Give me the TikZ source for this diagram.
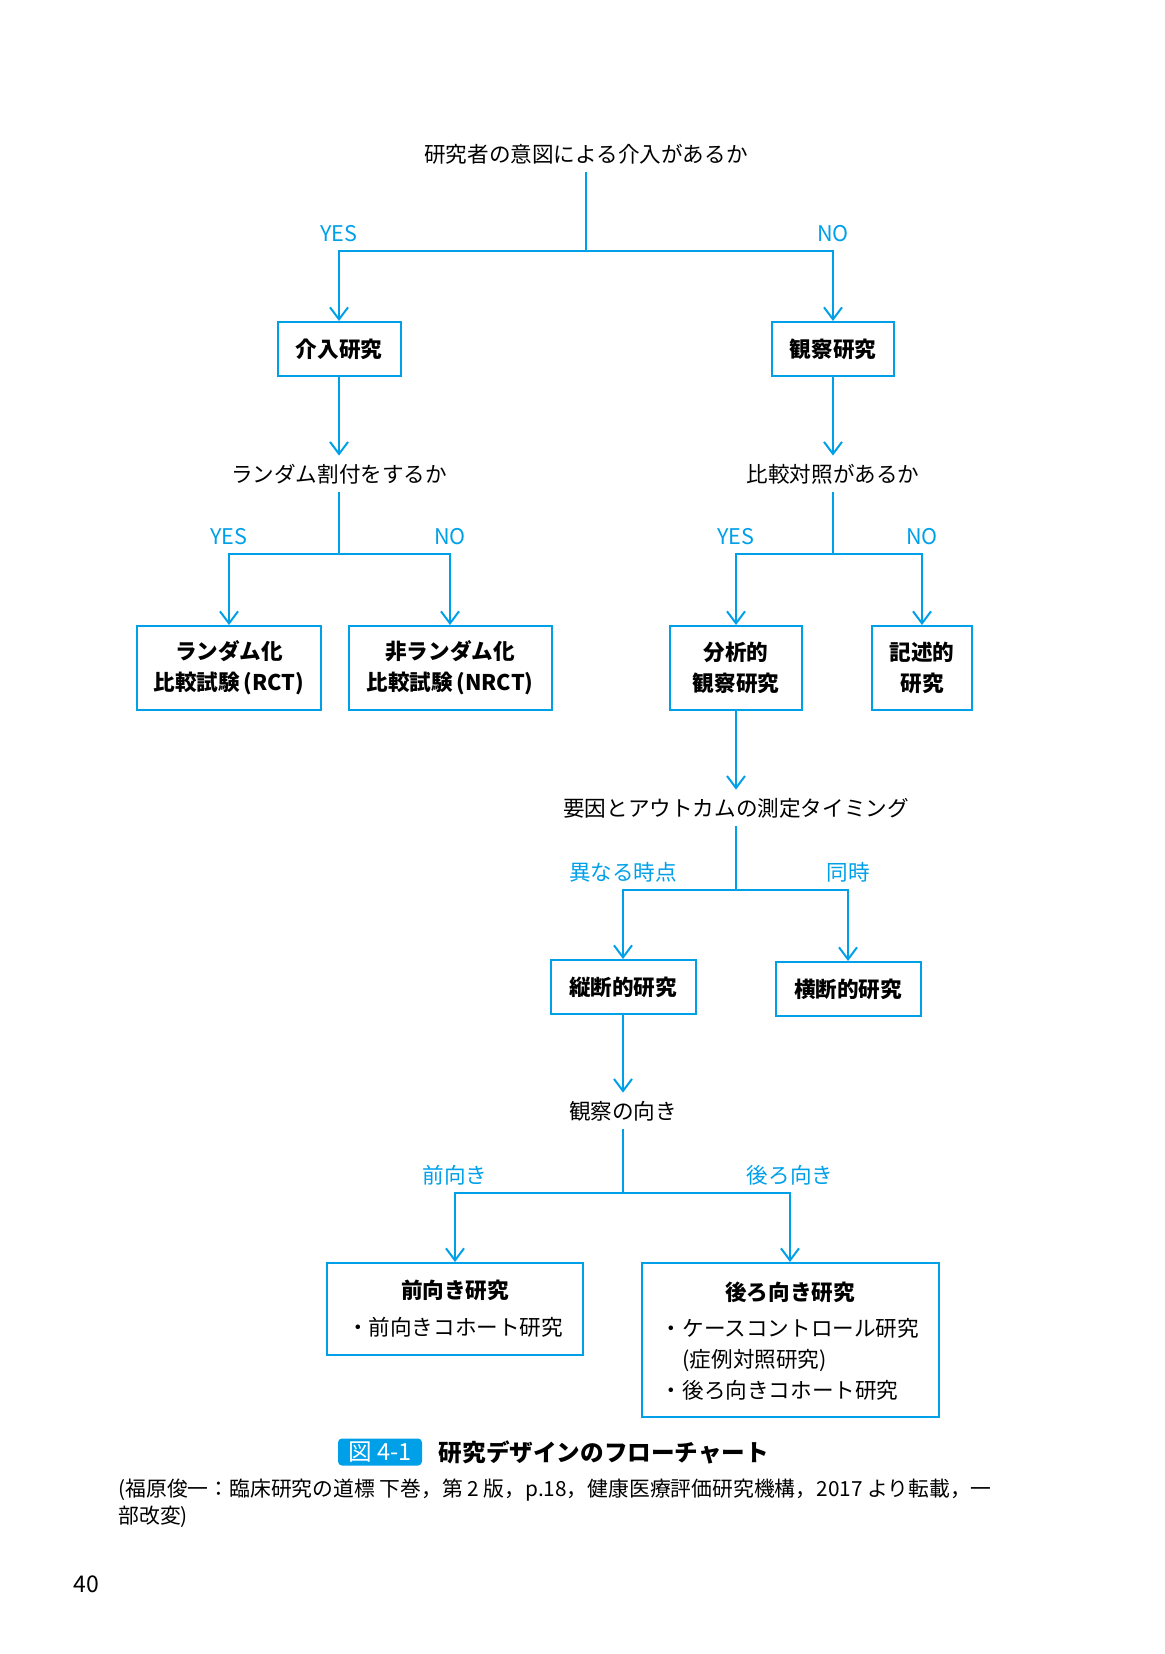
\documentclass[tikz,border=0pt]{standalone}
\usepackage{fontspec}
\newfontfamily\jpfont{Noto Sans CJK JP}
\usepackage{tikz}
\usetikzlibrary{shapes,arrows.meta,positioning}
\definecolor{flowblue}{RGB}{0,160,233}

\begin{document}
\begin{tikzpicture}
		[
		x = 0.5pt, y = -0.5pt,
		every node/.style = {font=\jpfont\fontsize{10.8}{15.3}\selectfont},
		ask/.style = {inner sep=4pt},
		box/.style = {draw=flowblue, line width=1pt, align=center, minimum height=27pt, inner sep=2pt, font=\jpfont\bfseries\fontsize{10.8}{15.3}\selectfont},
		lbl/.style = {anchor=base, yshift=5pt, text=flowblue},
		wire/.style = {draw=flowblue, line width=1pt},
		link/.style = {wire, -{Straight Barb[length=6pt,width=9pt]}}
		]
		
		\useasboundingbox (0,0) rectangle (1165,1654);
		
		\node[ask] (q1) at (586,154) {研究者の意図による介入があるか};
		\coordinate (j1) at (586,251);
		\node[box, minimum width=61.5pt] (intv) at (339,349) {介入研究};
		\node[box, minimum width=61pt] (obs) at (833,349) {観察研究};
		\draw[wire] (q1) -- (j1);
		\draw[link] (j1) -| node[lbl] {YES} (intv);
		\draw[link] (j1) -| node[lbl] {NO} (obs);
		
		\node[ask] (q2) at (339,474) {ランダム割付をするか};
		\coordinate (j2) at (339,554);
		\node[box, minimum width=92pt, minimum height=42pt] (rct) at (229,668) {ランダム化\\比較試験\,(RCT)};
		\node[box, minimum width=101.5pt, minimum height=42pt] (nrct) at (450,668) {非ランダム化\\比較試験\,(NRCT)};
		\draw[link] (intv) -- (q2);
		\draw[wire] (q2) -- (j2);
		\draw[link] (j2) -| node[lbl] {YES} (rct);
		\draw[link] (j2) -| node[lbl] {NO} (nrct);
		
		\node[ask] (q3) at (833,474) {比較対照があるか};
		\coordinate (j3) at (833,554);
		\node[box, minimum width=66pt, minimum height=42pt] (ana) at (736,668) {分析的\\観察研究};
		\node[box, minimum width=50pt, minimum height=42pt] (desc) at (922,668) {記述的\\研究};
		\draw[link] (obs) -- (q3);
		\draw[wire] (q3) -- (j3);
		\draw[link] (j3) -| node[lbl] {YES} (ana);
		\draw[link] (j3) -| node[lbl] {NO} (desc);
		
		\node[ask] (q4) at (736,808) {要因とアウトカムの測定タイミング};
		\coordinate (j4) at (736,890);
		\node[box, minimum width=72.5pt] (long) at (623,987) {縦断的研究};
		\node[box, minimum width=72.5pt] (cross) at (848,989) {横断的研究};
		\draw[link] (ana) -- (q4);
		\draw[wire] (q4) -- (j4);
		\draw[link] (j4) -| node[lbl] {異なる時点} (long);
		\draw[link] (j4) -| node[lbl] {同時} (cross);
		
		\node[ask] (q5) at (623,1111) {観察の向き};
		\coordinate (j5) at (623,1193);
		\node[box, minimum width=128pt, minimum height=46pt] (pro) at (455,1309)
			{前向き研究\\[3.2pt]{\mdseries ・前向きコホート研究}};
		\node[box, minimum width=148.5pt, minimum height=77pt] (retro) at (790,1340)
			{\rule{0pt}{13.7pt}後ろ向き研究\\[5.5pt]{\mdseries\begin{tabular}{@{}l@{}}
				・ケースコントロール研究\\
				\hspace{1em}(症例対照研究)\\
				・後ろ向きコホート研究
			\end{tabular}}};
		\draw[link] (long) -- (q5);
		\draw[wire] (q5) -- (j5);
		\draw[link] (j5) -| node[lbl] {前向き} (pro);
		\draw[link] (j5) -| node[lbl] {後ろ向き} (retro);
		
		\node[fill=flowblue, text=white, rounded corners=2pt, minimum width=42pt, minimum height=13.5pt, inner sep=0pt,
			font=\jpfont\fontsize{11.8}{14}\selectfont] (figno) at (380,1452) {図 4-1};
		\node[right=8pt of figno, inner sep=0pt, font=\jpfont\bfseries\fontsize{11.8}{14}\selectfont] (figtitle) {研究デザインのフローチャート};
		\node[anchor=base west, inner sep=0pt, align=left, font=\jpfont\fontsize{10.4}{13.5}\selectfont] (source) at (118,1523)
			{(福原俊一：臨床研究の道標 下巻，第 2 版，p.18，健康医療評価研究機構，2017 より転載，一\\部改変)};
		\node[anchor=base west, inner sep=0pt, font=\jpfont\fontsize{11.5}{13}\selectfont] (page) at (73,1592) {40};
		
		\end{tikzpicture}
\end{document}
